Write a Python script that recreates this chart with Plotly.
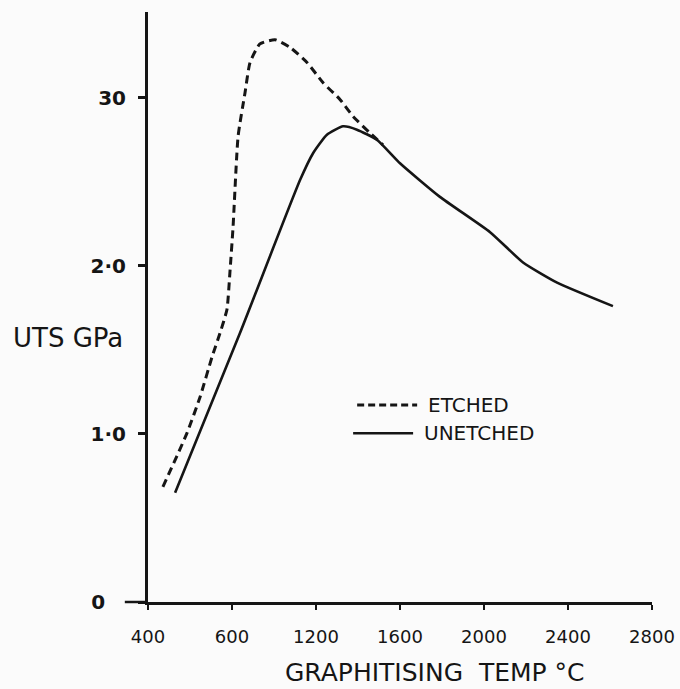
import plotly.graph_objects as go

# Data
etched_temp = [471, 586, 648, 705, 743, 776, 790, 805, 829, 862, 886, 933, 1005,
               1076, 1157, 1233, 1314, 1376, 1457, 1519]
etched_uts = [0.685, 1.006, 1.22, 1.458, 1.60, 1.74, 1.96, 2.23, 2.77, 3.03, 3.21, 3.32, 3.345,
              3.30, 3.21, 3.09, 2.99, 2.89, 2.79, 2.72]

unetched_temp = [529, 838, 1124, 1186, 1252, 1329, 1395, 1490, 1600, 1790, 2029,
                 2186, 2348, 2614]
unetched_uts = [0.65, 1.60, 2.51, 2.67, 2.78, 2.83, 2.81, 2.75, 2.61, 2.41, 2.20,
                2.02, 1.90, 1.76]

x_tickvals = [400, 800, 1200, 1600, 2000, 2400, 2800]
x_ticktext = ["400", "600", "1200", "1600", "2000", "2400", "2800"]
y_tickvals = [0, 1, 2, 3]
y_ticktext = ["0\u00a0\u00a0\u00a0", "1·0", "2·0", "30"]

INK = "#151515"
BG = "#fbfbfb"
FONT = "DejaVu Sans"

fig = go.Figure()
fig.add_trace(go.Scatter(
    x=etched_temp, y=etched_uts, mode="lines", name="ETCHED",
    line=dict(color=INK, width=3, dash="8px,5px", shape="spline", smoothing=0.5),
    showlegend=False))
fig.add_trace(go.Scatter(
    x=unetched_temp, y=unetched_uts, mode="lines", name="UNETCHED",
    line=dict(color=INK, width=2.6, shape="spline", smoothing=0.5),
    showlegend=False))

# legend drawn by hand (paper coords)
fig.add_shape(type="line", xref="paper", yref="paper", x0=0.415, x1=0.534, y0=0.334, y1=0.334,
              line=dict(color=INK, width=3, dash="7px,4px"))
fig.add_shape(type="line", xref="paper", yref="paper", x0=0.407, x1=0.526, y0=0.286, y1=0.286,
              line=dict(color=INK, width=2.6))
fig.add_annotation(xref="paper", yref="paper", x=0.552, y=0.334, text="ETCHED", showarrow=False,
                   xanchor="left", yanchor="middle", font=dict(family=FONT, size=20, color=INK))
fig.add_annotation(xref="paper", yref="paper", x=0.544, y=0.286, text="UNETCHED", showarrow=False,
                   xanchor="left", yanchor="middle", font=dict(family=FONT, size=20, color=INK))

# extension of x axis line to the left of the y axis
fig.add_shape(type="line", xref="paper", yref="paper", x0=-0.046, x1=0, y0=0, y1=0,
              line=dict(color=INK, width=2.5))

fig.add_annotation(xref="paper", yref="paper", x=-0.272, y=0.447, text="UTS GPa", showarrow=False,
                   xanchor="left", yanchor="middle", font=dict(family=FONT, size=26, color=INK))
fig.add_annotation(xref="paper", yref="paper", x=0.569, y=-0.12, text="GRAPHITISING  TEMP °C",
                   showarrow=False, xanchor="center", yanchor="middle",
                   font=dict(family=FONT, size=25, color=INK))

fig.update_xaxes(range=[400, 2800], tickvals=x_tickvals, ticktext=x_ticktext,
                 showline=True, linecolor=INK, linewidth=2.5, ticks="outside", ticklen=5,
                 tickcolor=INK, tickwidth=2, showgrid=False, zeroline=False,
                 ticklabelstandoff=12,
                 tickfont=dict(family=FONT, size=18, color=INK))
fig.update_yaxes(range=[0, 3.51], tickvals=y_tickvals, ticktext=y_ticktext,
                 showline=True, linecolor=INK, linewidth=3, ticks="outside", ticklen=7,
                 tickcolor=INK, tickwidth=2.5, showgrid=False, zeroline=False,
                 ticklabelstandoff=8,
                 tickfont=dict(family=FONT, size=20, color=INK, weight="bold"))

fig.update_layout(width=680, height=689, margin=dict(l=148, r=28, t=12, b=87, autoexpand=False),
                  paper_bgcolor=BG, plot_bgcolor=BG, showlegend=False)

fig.write_html("out.html", config={"displayModeBar": False},
               post_script="document.body.style.margin='0';document.body.style.padding='0';"
                           "document.body.style.background='" + BG + "';")
